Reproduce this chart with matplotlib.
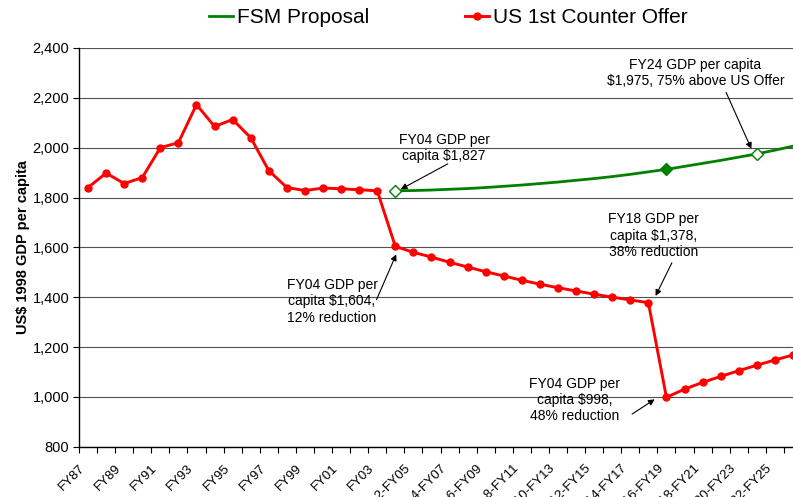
import numpy as np
import matplotlib
matplotlib.use("Agg")
import matplotlib.pyplot as plt
import matplotlib.transforms as mtransforms
from matplotlib.ticker import FuncFormatter

plt.rcParams['font.family'] = ['Liberation Sans', 'DejaVu Sans']

# ---- data ----
hist_years = ["FY87", "FY88", "FY89", "FY90", "FY91", "FY92", "FY93", "FY94", "FY95",
              "FY96", "FY97", "FY98", "FY99", "FY00", "FY01", "FY02", "FY03"]
compact_years = ["FY%02d" % y for y in range(4, 27)]
compact_nums = list(range(1, 24))
categories = hist_years + ["Yr %d-%s" % (n, y) for n, y in zip(compact_nums, compact_years)]

us_offer = [1840, 1898, 1856, 1880, 2000, 2020, 2173, 2085, 2113, 2040, 1908, 1840, 1828,
            1838, 1835, 1831, 1827,
            1604, 1580, 1561, 1540, 1521, 1502, 1485, 1468, 1452, 1438, 1425, 1412, 1400,
            1389, 1378, 998, 1031, 1058, 1082, 1105, 1127, 1148, 1168]

fsm_proposal = [np.nan] * 17 + [1827, 1828, 1830, 1833, 1836, 1840, 1845, 1850, 1856, 1862,
                                1869, 1876, 1884, 1893, 1903, 1913, 1925, 1937, 1949, 1962,
                                1975, 1990, 2006]

hollow_marks = ["FY04", "FY24"]
filled_marks = ["FY19"]

x = np.arange(len(categories))
idx = {c: i for i, c in enumerate(["FY%02d" % (y % 100) for y in range(1987, 2027)])}

fig = plt.figure(figsize=(7.93, 4.97), dpi=100)
ax = fig.add_axes([79 / 793, 50.3 / 497, 723 / 793, 398.7 / 497])

green = '#008000'
red = '#FF0000'

ax.plot(x, fsm_proposal, color=green, lw=2.0, label='FSM Proposal', zorder=3)
fsm = np.array(fsm_proposal)
hi = [idx[c] for c in hollow_marks]
fi = [idx[c] for c in filled_marks]
ax.plot(hi, fsm[hi], ls='none', marker='D', ms=6.5, mfc='white', mec=green, mew=1.0, zorder=4)
ax.plot(fi, fsm[fi], ls='none', marker='D', ms=6.5, mfc=green, mec=green, zorder=4)
ax.plot(x, us_offer, color=red, lw=2.1, marker='o', ms=5, label='US 1st Counter Offer', zorder=5)

ax.set_ylim(800, 2400)
ax.set_xlim(-0.5, len(categories) - 0.5)
ax.set_yticks(np.arange(800, 2401, 200))
ax.yaxis.set_major_formatter(FuncFormatter(lambda v, p: f"{int(v):,}"))
ax.grid(axis='y', color='#505050', lw=0.8)
ax.set_axisbelow(True)
for s in ['top', 'right']:
    ax.spines[s].set_visible(False)
ax.spines['left'].set_linewidth(1.0)
ax.spines['bottom'].set_linewidth(1.0)
ax.tick_params(axis='y', labelsize=10.5, length=4, width=0.8, pad=3)

ax.set_xticks(x[::2])
ax.set_xticklabels(categories[::2], rotation=45, ha='right', va='center',
                   rotation_mode='anchor', fontsize=9.5)
ax.set_xticks(np.arange(-0.5, len(categories), 1), minor=True)
ax.tick_params(axis='x', which='major', length=0, pad=14.5)
ax.tick_params(axis='x', which='minor', length=4, width=0.8)
shift = mtransforms.ScaledTranslation(-5 / 100, 0, fig.dpi_scale_trans)
for lbl in ax.get_xticklabels():
    lbl.set_transform(lbl.get_transform() + shift)

ax.set_ylabel('US$ 1998 GDP per capita', fontsize=10.5, fontweight='bold', labelpad=2)

leg = fig.legend(loc='center', bbox_to_anchor=(0.5656, 0.964), ncol=2, frameon=False,
                 fontsize=15, handlelength=1.15, handletextpad=0.2, columnspacing=4.6,
                 borderpad=0.2)

arrow = dict(arrowstyle='-|>', color='black', lw=0.8, mutation_scale=9, shrinkA=0, shrinkB=0)
fs = 10
ax.annotate('FY04 GDP per\ncapita $1,827', xy=(19.7, 2000),
            ha='center', va='center', fontsize=fs, zorder=6)
ax.annotate('', xy=(17.3, 1833), xytext=(19.9, 1935), arrowprops=arrow)

ax.annotate('FY24 GDP per capita\n$1,975, 75% above US Offer', xy=(33.6, 2300),
            ha='center', va='center', fontsize=fs)
ax.annotate('', xy=(36.7, 1995), xytext=(35.3, 2222), arrowprops=arrow)

ax.annotate('FY18 GDP per\ncapita $1,378,\n38% reduction', xy=(31.3, 1647),
            ha='center', va='center', fontsize=fs)
ax.annotate('', xy=(31.4, 1405), xytext=(32.3, 1538), arrowprops=arrow)

ax.annotate('FY04 GDP per\ncapita $1,604,\n12% reduction', xy=(13.5, 1383),
            ha='center', va='center', fontsize=fs)
ax.annotate('', xy=(17.05, 1572), xytext=(15.96, 1390), arrowprops=arrow)

ax.annotate('FY04 GDP per\ncapita $998,\n48% reduction', xy=(26.9, 988),
            ha='center', va='center', fontsize=fs)
ax.annotate('', xy=(31.35, 990), xytext=(30.1, 931), arrowprops=arrow)

fig.savefig('out.png', dpi=100)
